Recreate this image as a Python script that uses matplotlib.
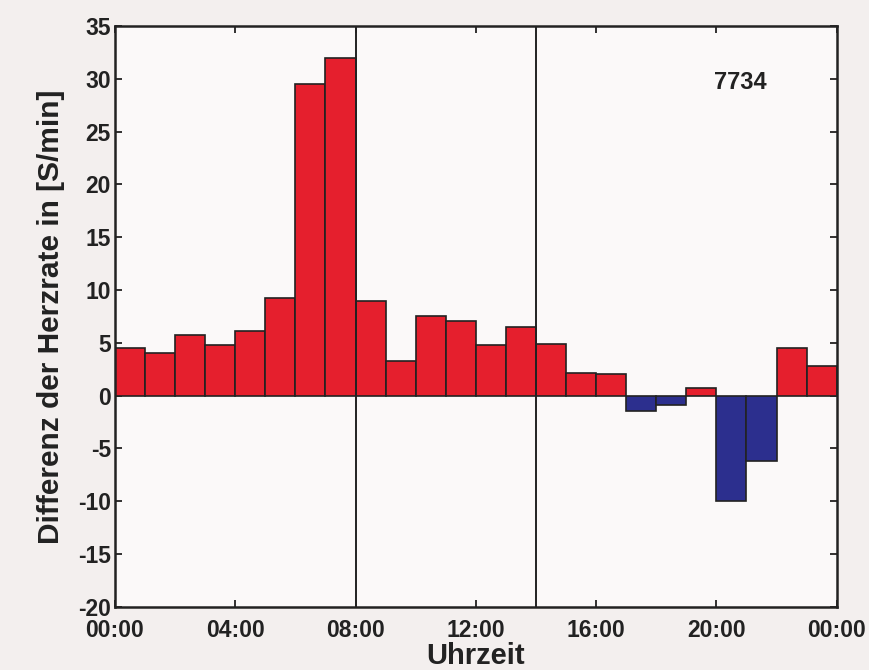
import matplotlib
matplotlib.use("Agg")
import matplotlib.pyplot as plt
import numpy as np

# Data: hourly difference in heart rate (beats/min), hour 0..23
hours = list(range(24))
values = [4.5, 4.0, 5.7, 4.8, 6.1, 9.2, 29.5, 32.0,
          9.0, 3.3, 7.5, 7.1, 4.8, 6.5, 4.9, 2.1,
          2.0, -1.5, -0.85, 0.7, -10.0, -6.2, 4.5, 2.8]
xtick_pos = [0, 4, 8, 12, 16, 20, 24]
xtick_labels = ["00:00", "04:00", "08:00", "12:00", "16:00", "20:00", "00:00"]
yticks = [-20, -15, -10, -5, 0, 5, 10, 15, 20, 25, 30, 35]
vlines = [8, 14]
annotation = "7734"

RED = "#e51f2d"
BLUE = "#2c2f8e"
DARK = "#222222"

plt.rcParams['font.family'] = ['Liberation Sans', 'DejaVu Sans']

fig = plt.figure(figsize=(8.69, 6.70), dpi=100, facecolor="#f3efee")
ax = fig.add_axes([0.1323, 0.0945, 0.8305, 0.8665])
ax.set_facecolor("#fbf9f9")

colors = [RED if v >= 0 else BLUE for v in values]
ax.bar(hours, values, width=1.0, align='edge', color=colors,
       edgecolor=DARK, linewidth=1.2, zorder=2)

for xv in vlines:
    ax.axvline(xv, color=DARK, linewidth=1.4, zorder=3)

ax.set_xlim(0, 24)
ax.set_ylim(-20, 35)
ax.set_xticks(xtick_pos)
ax.set_xticklabels(xtick_labels)
ax.set_yticks(yticks)
ax.set_yticklabels([str(t) for t in yticks])

ax.tick_params(axis='both', direction='in', length=5, width=1.3,
               colors=DARK, labelsize=16.5, top=True, right=True,
               labeltop=False, labelright=False)
ax.tick_params(axis='x', pad=9)
ax.tick_params(axis='y', pad=3)
for lab in ax.get_xticklabels() + ax.get_yticklabels():
    lab.set_fontweight('bold')
    lab.set_color(DARK)

for sp in ax.spines.values():
    sp.set_linewidth(1.8)
    sp.set_color(DARK)

ax.set_xlabel("Uhrzeit", fontsize=21, fontweight='bold', color=DARK, labelpad=0)
ax.set_ylabel("Differenz der Herzrate in [S/min]", fontsize=21.5,
              fontweight='bold', color=DARK, labelpad=9)

ax.text(20.8, 29.7, annotation, fontsize=17, fontweight='bold', color=DARK,
        ha='center', va='center')

fig.savefig("out.png", dpi=100, facecolor=fig.get_facecolor())
